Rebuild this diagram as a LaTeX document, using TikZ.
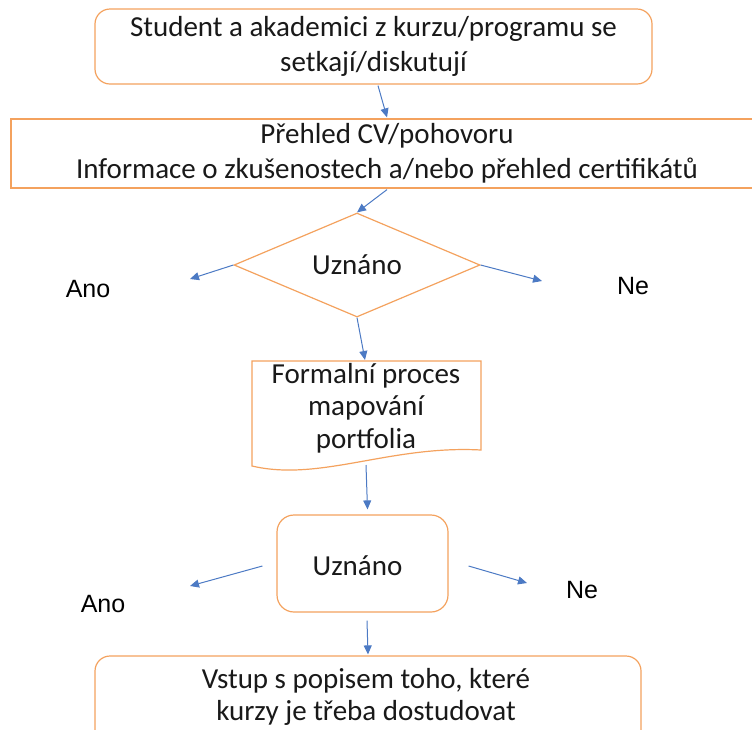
\documentclass[tikz,border=0pt]{standalone}
\usepackage{fontspec}
\setmainfont{Carlito}
\newfontfamily\arialf{Liberation Sans}
\usetikzlibrary{arrows.meta,shapes.geometric,calc}
\definecolor{orng}{RGB}{244,162,94}
\definecolor{arblue}{RGB}{76,122,196}
\begin{document}
\begin{tikzpicture}[x=1pt,y=-1pt,
  shapebox/.style={draw=orng, line width=1.2pt, fill=white},
  conn/.style={draw=arblue, line width=1pt, -{Triangle[length=9pt,width=8pt]}},
  maintext/.style={font=\fontsize{29}{35}\selectfont, align=center, inner sep=0pt, text=black!90},
  doctext/.style={font=\fontsize{29}{32.5}\selectfont, align=center, inner sep=0pt, text=black!90},
  yesno/.style={font=\arialf\fontsize{25}{30}\selectfont, inner sep=0pt, anchor=base}]
\useasboundingbox (0,0) rectangle (752,729);

% top rounded box
\node[shapebox, rounded corners=15pt, minimum width=557pt, minimum height=75pt, maintext] (b1) at (373.5,46.5)
  {Student a akademici z kurzu/programu se\\setkají/diskutují};

% wide rectangle
\node[shapebox, minimum width=752pt, minimum height=69pt, maintext] (b2) at (387,153.5)
  {Přehled CV/pohovoru\\Informace o zkušenostech a/nebo přehled certifikátů};

% decision diamond
\node[shapebox, diamond, aspect=2.365, minimum width=246pt, minimum height=104pt, inner sep=0pt,
  font=\fontsize{29}{35}\selectfont, text=black!90] (d1) at (357,265) {Uznáno};

% document shape
\draw[shapebox] (252,361) -- (481,361) -- (481,450)
  .. controls (390,445) and (320,482) .. (252,466) -- cycle;
\node[doctext] (doc) at (366,408) {Formalní proces\\mapování\\portfolia};
\coordinate (docT) at (365,360);
\coordinate (docB) at (366,465);

% second decision (rounded box)
\node[shapebox, rounded corners=17pt, minimum width=171pt, minimum height=97pt] (u2) at (362.5,563.5) {};
\node[maintext] (u2t) at (357.5,566) {Uznáno};

% bottom rounded box
\node[shapebox, rounded corners=15pt, minimum width=546pt, minimum height=110pt] (b3) at (368,711) {};
\node[maintext, font=\fontsize{29}{32}\selectfont] (b3t) at (366,697)
  {Vstup s popisem toho, které\\kurzy je třeba dostudovat};

% free ends
\coordinate (l1) at (190,279);
\coordinate (r1) at (542,281);
\coordinate (l2) at (190,586);
\coordinate (r2) at (527,583);

% labels
\node[yesno] (ano1) at (88,297) {Ano};
\node[yesno] (ne1) at (633,294) {Ne};
\node[yesno] (ano2) at (103,612) {Ano};
\node[yesno] (ne2) at (582,598) {Ne};

% connectors
\draw[conn] ($(b1.south)+(4.5,1)$) -- ($(b2.north)+(0,-1)$);
\draw[conn] ($(b2.south)+(0,1)$) -- (d1.north);
\draw[conn] (d1.west) -- (l1);
\draw[conn] (d1.east) -- (r1);
\draw[conn] (d1.south) -- (docT);
\draw[conn] (docB) -- ($(u2.north)+(5,-5)$);
\draw[conn] ($(u2.west)+(-14,2.5)$) -- (l2);
\draw[conn] ($(u2.east)+(20,2.5)$) -- (r2);
\draw[conn] ($(u2.south)+(4.5,8)$) -- ($(b3.north)+(0,-1)$);
\end{tikzpicture}
\end{document}
